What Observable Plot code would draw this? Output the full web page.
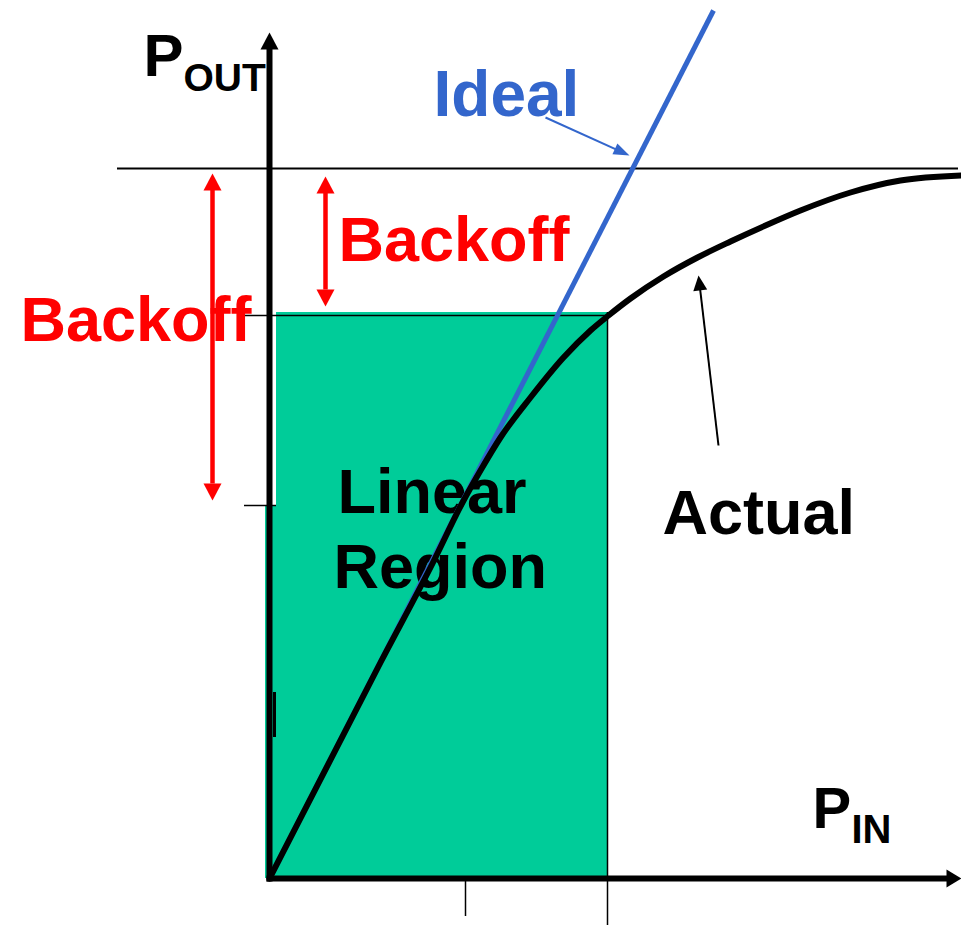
<!DOCTYPE html>
<html><head><meta charset="utf-8">
<script src="https://cdn.jsdelivr.net/npm/d3@7"></script>
<script src="https://cdn.jsdelivr.net/npm/@observablehq/plot@0.6"></script>
<style>body{margin:0;background:#fff}#chart svg{display:block}</style>
</head><body><div id="chart"></div>
<script>
// ---- data (Pin / Pout in chart units) ----
const actualPin  = [0, 11.1, 16.3, 19.3, 21.1, 23.1, 26.1, 29.4, 32.1, 33.9, 36.1, 39.4, 42.8, 46.1, 49.6, 53.1, 58.1, 63.1, 69.2];
const actualPout = [0, 21.6, 31.5, 37.6, 40.8, 44.1, 48.1, 52.1, 54.8, 56.3, 58.0, 60.2, 62.1, 63.7, 65.3, 66.8, 68.6, 69.8, 70.3];
const idealPin  = [0.1, 44.4];
const idealPout = [0.2, 86.8];
const saturationPout = 71.0;
const saturationPin = [-15.2, 68.9];
const linearRegionPin = [0.7, 33.8];
const linearRegionPout = [0, 56.6];
const backoffLevels = [56.3, 37.3];        // Pout levels marked on the y axis
const inputTicks = [19.6, 33.8];           // Pin levels marked on the x axis
// arrows: tail -> tip
const arrowNames = ["yAxis", "xAxis", "backoffTotal", "backoffLinear", "idealPointer", "actualPointer"];
const arrowTailPin  = [0, -0.3, -5.7, 5.6, 27.6, 44.9];
const arrowTailPout = [-0.3, 0, 37.8, 57.2, 76.1, 43.3];
const arrowTipPin   = [0, 69.2, -5.7, 5.6, 36.0, 42.9];
const arrowTipPout  = [84.6, 0, 70.5, 70.2, 72.3, 60.3];
// labels
const labelText = ["Linear", "Region", "P", "OUT", "Ideal", "Backoff", "Backoff", "Actual", "P", "IN"];
const labelPin  = [6.8, 6.4, -12.6, -8.6, 16.4, 6.9, -24.9, 39.3, 54.3, 58.2];
const labelPout = [36.6, 29.1, 80.3, 78.8, 76.3, 61.8, 53.8, 34.5, 5.1, 3.6];

// ---- build tables ----
const actual = actualPin.map((x, i) => ({x, y: actualPout[i]}));
const ideal = idealPin.map((x, i) => ({x, y: idealPout[i]}));
const labels = labelText.map((t, i) => ({t, x: labelPin[i], y: labelPout[i]}));

const RED = "#FF0000", BLUE = "#3366CC", GREEN = "#00CC99";
const FONT = "'Liberation Sans', Arial, Helvetica, sans-serif";
const PX = 10; // pixels per chart unit (961px / 96.1 units)

const arrowStyle = {
  yAxis:        {color: "#000", w: 6,   len: 17, half: 9,   both: false},
  xAxis:        {color: "#000", w: 6,   len: 15, half: 9,   both: false},
  backoffTotal: {color: RED,    w: 4.5, len: 17, half: 9,   both: true},
  backoffLinear:{color: RED,    w: 4.5, len: 17, half: 9,   both: true},
  idealPointer: {color: BLUE,   w: 2,   len: 16, half: 6,   both: false},
  actualPointer:{color: "#000", w: 2,   len: 15, half: 7,   both: false}
};

function headPoly(tip, from, len, half) {
  const dx = tip[0] - from[0], dy = tip[1] - from[1];
  const n = Math.hypot(dx, dy), ux = dx / n, uy = dy / n;
  const bx = tip[0] - ux * len / PX, by = tip[1] - uy * len / PX;
  const px = -uy * half / PX, py = ux * half / PX;
  return {base: [bx, by], pts: [{x: tip[0], y: tip[1]}, {x: bx + px, y: by + py}, {x: bx - px, y: by - py}, {x: tip[0], y: tip[1]}]};
}

const arrowMarks = [];
arrowNames.forEach((name, i) => {
  const s = arrowStyle[name];
  const tail = [arrowTailPin[i], arrowTailPout[i]];
  const tip = [arrowTipPin[i], arrowTipPout[i]];
  const hEnd = headPoly(tip, tail, s.len, s.half);
  let start = tail;
  if (s.both) {
    const hStart = headPoly(tail, tip, s.len, s.half);
    start = hStart.base;
    arrowMarks.push(Plot.line(hStart.pts, {x: "x", y: "y", fill: s.color, stroke: "none"}));
  }
  const end = hEnd.base;
  arrowMarks.push(Plot.link([{x1: start[0], y1: start[1], x2: end[0] + (tip[0]-end[0])*0.3, y2: end[1] + (tip[1]-end[1])*0.3}],
    {x1: "x1", y1: "y1", x2: "x2", y2: "y2", stroke: s.color, strokeWidth: s.w, strokeLinecap: "butt"}));
  arrowMarks.push(Plot.line(hEnd.pts, {x: "x", y: "y", fill: s.color, stroke: "none"}));
});

const labelStyle = [
  {size: 63, color: "#000"}, {size: 63, color: "#000"},
  {size: 60, color: "#000"}, {size: 39, color: "#000"},
  {size: 64, color: BLUE},
  {size: 63, color: RED}, {size: 63, color: RED},
  {size: 63, color: "#000"},
  {size: 58, color: "#000"}, {size: 40, color: "#000"}
];
const textMark = (i) => Plot.text([labels[i]], {
  x: "x", y: "y", text: "t", textAnchor: "start", lineAnchor: "bottom",
  fontSize: labelStyle[i].size, fontWeight: "bold", fontFamily: FONT, fill: labelStyle[i].color
});

const chart = Plot.plot({
  width: 961, height: 925, margin: 0,
  x: {domain: [-26.9, 69.2], axis: null},
  y: {domain: [-4.7, 87.8], axis: null},
  style: {background: "#fff", fontFamily: FONT},
  marks: [
    // linear region
    Plot.rect([{x1: linearRegionPin[0], x2: linearRegionPin[1], y1: linearRegionPout[0], y2: linearRegionPout[1]}],
      {x1: "x1", x2: "x2", y1: "y1", y2: "y2", fill: GREEN}),
    Plot.rect([{x1: -0.4, x2: linearRegionPin[0], y1: linearRegionPout[0], y2: backoffLevels[1]}],
      {x1: "x1", x2: "x2", y1: "y1", y2: "y2", fill: GREEN}),
    textMark(0), textMark(1),
    // reference lines and ticks
    Plot.ruleY([saturationPout], {x1: saturationPin[0], x2: saturationPin[1], stroke: "#000", strokeWidth: 2}),
    Plot.ruleY([backoffLevels[0]], {x1: -3.1, x2: linearRegionPin[1], stroke: "#000", strokeWidth: 1.5}),
    Plot.ruleY([backoffLevels[1]], {x1: -2.5, x2: linearRegionPin[0], stroke: "#000", strokeWidth: 1.5}),
    Plot.ruleX([inputTicks[1]], {y1: -4.7, y2: linearRegionPout[1], stroke: "#000", strokeWidth: 1.5}),
    Plot.ruleX([inputTicks[0]], {y1: -3.8, y2: 0, stroke: "#000", strokeWidth: 1.5}),
    Plot.ruleX([0.5], {y1: 14.1, y2: 18.6, stroke: "#000", strokeWidth: 3}),
    // curves
    Plot.line(ideal, {x: "x", y: "y", stroke: BLUE, strokeWidth: 5, strokeLinecap: "butt"}),
    Plot.line(actual, {x: "x", y: "y", stroke: "#000", strokeWidth: 6, curve: "monotone-x"}),
    ...arrowMarks,
    textMark(2), textMark(3), textMark(4), textMark(5), textMark(6), textMark(7), textMark(8), textMark(9)
  ]
});
document.getElementById("chart").append(chart);
</script>
</body></html>
